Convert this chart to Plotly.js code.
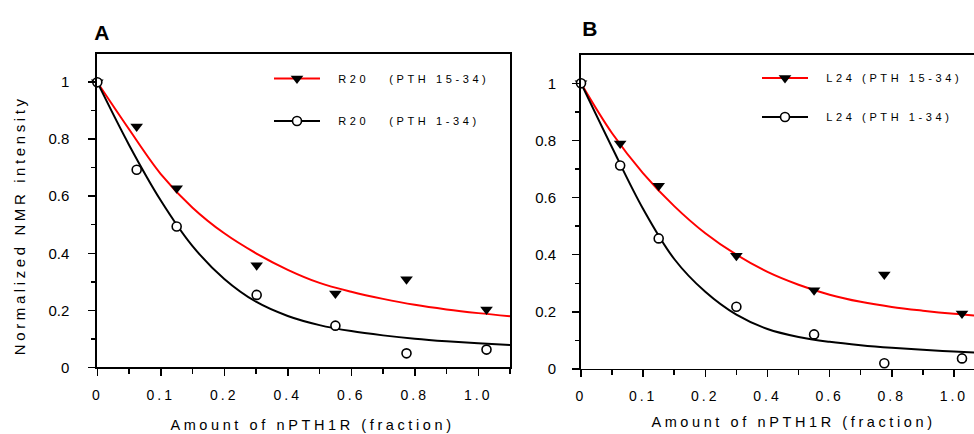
<!DOCTYPE html>
<html><head><meta charset="utf-8">
<script src="https://cdn.plot.ly/plotly-3.0.1.min.js"></script>
<style>
html,body{margin:0;padding:0;overflow:hidden;background:#fff;}
#chart{width:1000px;height:434px;}
.xtick text, .x2tick text {letter-spacing:3px;}
.infolayer text {letter-spacing:3.6px;}
</style></head>
<body><div id="chart"></div>
<script>
// x positions are in axis units (one unit per labelled tick)
var tickPos = [0, 1, 2, 3, 4, 5, 6];
var tickLabels = ['0', '0.1', '0.2', '0.4', '0.6', '0.8', '1.0'];

// Panel A: R20 - measured points
var xA = [0, 0.62, 1.25, 2.51, 3.75, 4.87, 6.13];
var triA = [1, 0.845, 0.628, 0.358, 0.259, 0.309, 0.203];   // PTH 15-34
var circA = [1, 0.693, 0.494, 0.254, 0.146, 0.049, 0.062];  // PTH 1-34
// Panel A: fitted curves
var fitX = [0, 0.5, 1, 1.5, 2, 2.5, 3, 3.5, 4, 4.5, 5, 5.5, 6, 6.5];
var fitRedA = [1, 0.835, 0.678, 0.56, 0.47, 0.40, 0.342, 0.296, 0.265, 0.24, 0.219, 0.203, 0.19, 0.179];
var fitBlackA = [1, 0.78, 0.585, 0.425, 0.31, 0.23, 0.18, 0.148, 0.127, 0.112, 0.10, 0.091, 0.084, 0.078];

// Panel B: L24 - measured points
var xB = [0, 0.63, 1.25, 2.5, 3.75, 4.88, 6.13];
var triB = [1, 0.789, 0.641, 0.396, 0.276, 0.331, 0.194];
var circB = [1, 0.712, 0.457, 0.218, 0.121, 0.02, 0.037];
// Panel B: fitted curves
var fitRedB = [1, 0.825, 0.685, 0.57, 0.475, 0.40, 0.34, 0.295, 0.26, 0.235, 0.217, 0.204, 0.193, 0.184];
var fitBlackB = [1, 0.775, 0.56, 0.385, 0.27, 0.19, 0.14, 0.112, 0.095, 0.083, 0.074, 0.067, 0.061, 0.056];

var legendNames = {
  redA: '\u00a0\u00a0R20\u00a0\u00a0\u00a0(PTH 15-34)',
  blackA: '\u00a0\u00a0R20\u00a0\u00a0\u00a0(PTH 1-34)',
  redB: '\u00a0\u00a0L24 (PTH 15-34)',
  blackB: '\u00a0\u00a0L24 (PTH 1-34)'
};

var RED = '#ff0000', BLK = '#000000';
var FONT = 'Liberation Sans, Arial, sans-serif';
var triMarker = {symbol: 'triangle-down', size: 11, color: BLK, line: {width: 0}};
var circMarker = {symbol: 'circle', size: 9, color: '#fff', line: {color: BLK, width: 1.6}};

function panel(xa, ya, fx, fr, fb, px, pt, pc, names, lg1, lg2) {
  return [
    {x: fx, y: fr, mode: 'lines', line: {color: RED, width: 2, shape: 'spline', smoothing: 1}, xaxis: xa, yaxis: ya, showlegend: false, hoverinfo: 'skip'},
    {x: fx, y: fb, mode: 'lines', line: {color: BLK, width: 2, shape: 'spline', smoothing: 1}, xaxis: xa, yaxis: ya, showlegend: false, hoverinfo: 'skip'},
    {x: px, y: pt, mode: 'markers', marker: triMarker, xaxis: xa, yaxis: ya, showlegend: false, cliponaxis: false},
    {x: px, y: pc, mode: 'markers', marker: circMarker, xaxis: xa, yaxis: ya, showlegend: false, cliponaxis: false},
    {x: [null], y: [null], mode: 'lines+markers', line: {color: RED, width: 2}, marker: triMarker, name: names[0], legend: lg1, xaxis: xa, yaxis: ya},
    {x: [null], y: [null], mode: 'lines+markers', line: {color: BLK, width: 2}, marker: circMarker, name: names[1], legend: lg2, xaxis: xa, yaxis: ya}
  ];
}

var data = [].concat(
  panel('x', 'y', fitX, fitRedA, fitBlackA, xA, triA, circA, [legendNames.redA, legendNames.blackA], 'legend', 'legend2'),
  panel('x2', 'y2', fitX, fitRedB, fitBlackB, xB, triB, circB, [legendNames.redB, legendNames.blackB], 'legend3', 'legend4')
);

function xaxis(dom) {
  return {domain: dom, range: [0, 6.5], tickmode: 'array', tickvals: tickPos, ticktext: tickLabels,
    ticks: 'outside', ticklen: 7, tickwidth: 1.5, tickcolor: BLK, showline: true, linecolor: BLK, linewidth: 1.5,
    mirror: true, showgrid: false, zeroline: false, ticklabelstandoff: 7,
    tickfont: {family: FONT, size: 14, color: BLK},
    minor: {tickmode: 'linear', tick0: 0, dtick: 0.5, ticks: 'outside', ticklen: 5, tickwidth: 1.5, tickcolor: BLK, showgrid: false}};
}
function yaxis(dom, anchor, standoff) {
  return {domain: dom, anchor: anchor, range: [0, 1.099], dtick: 0.2, tick0: 0,
    ticks: 'outside', ticklen: 7, tickwidth: 1.5, tickcolor: BLK, showline: true, linecolor: BLK, linewidth: 2,
    mirror: true, showgrid: false, zeroline: false, ticklabelstandoff: standoff,
    tickfont: {family: FONT, size: 15, color: BLK},
    minor: {dtick: 0.1, ticks: 'outside', ticklen: 4, tickwidth: 1.5, tickcolor: BLK, showgrid: false}};
}
function leg(x, y) {
  return {x: x, y: y, xanchor: 'left', yanchor: 'middle', bgcolor: 'rgba(0,0,0,0)', borderwidth: 0,
    itemwidth: 46, font: {family: FONT, size: 11, color: BLK}};
}

var layout = {
  width: 1000, height: 434, margin: {l: 0, r: 0, t: 0, b: 0},
  paper_bgcolor: '#fff', plot_bgcolor: '#fff', showlegend: true,
  xaxis: xaxis([0.0973, 0.510]),
  yaxis: yaxis([0.1537, 0.8756], 'x', 16),
  xaxis2: Object.assign(xaxis([0.581, 0.985]), {anchor: 'y2'}),
  yaxis2: yaxis([0.1498, 0.8733], 'x2', 13),
  legend: leg(0.269, 1 - 78.5 / 434),
  legend2: leg(0.269, 1 - 121 / 434),
  legend3: leg(0.757, 1 - 78 / 434),
  legend4: leg(0.757, 1 - 117 / 434),
  annotations: [
    {text: '<b>A</b>', xref: 'paper', yref: 'paper', x: 0.094, y: 1 - 32.5 / 434, xanchor: 'left', yanchor: 'middle', showarrow: false, font: {family: FONT, size: 21, color: BLK}},
    {text: '<b>B</b>', xref: 'paper', yref: 'paper', x: 0.582, y: 1 - 29 / 434, xanchor: 'left', yanchor: 'middle', showarrow: false, font: {family: FONT, size: 21, color: BLK}},
    {text: 'Amount of nPTH1R (fraction)', xref: 'paper', yref: 'paper', x: 0.312, y: 1 - 425 / 434, xanchor: 'center', yanchor: 'middle', showarrow: false, font: {family: FONT, size: 14.5, color: BLK}},
    {text: 'Amount of nPTH1R (fraction)', xref: 'paper', yref: 'paper', x: 0.793, y: 1 - 422 / 434, xanchor: 'center', yanchor: 'middle', showarrow: false, font: {family: FONT, size: 14.5, color: BLK}},
    {text: 'Normalized NMR intensity', xref: 'paper', yref: 'paper', x: 0.019, y: 1 - 225 / 434, xanchor: 'center', yanchor: 'middle', textangle: -90, showarrow: false, font: {family: FONT, size: 15, color: BLK}}
  ]
};

Plotly.newPlot('chart', data, layout, {displayModeBar: false, staticPlot: true}).then(function (gd) {
  // letter-spaced legend text is wider than Plotly measured, so let it overflow its box
  gd.querySelectorAll('.infolayer [clip-path]').forEach(function (el) { el.removeAttribute('clip-path'); });
});
</script></body></html>
